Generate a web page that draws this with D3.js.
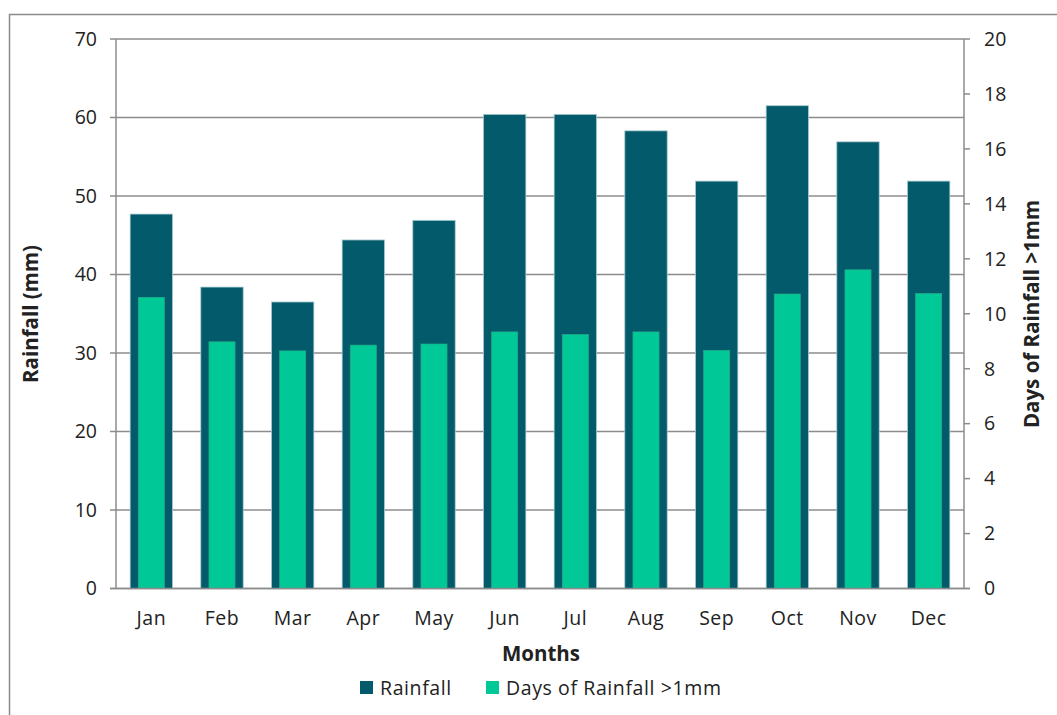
<!DOCTYPE html>
<html><head><meta charset="utf-8">
<script src="https://cdn.jsdelivr.net/npm/d3@7"></script>
<style>body{margin:0;background:#fff}svg{display:block}text{font-family:"Open Sans","Noto Sans",sans-serif;fill:#222}</style>
</head><body><svg id="c" width="1057" height="715"></svg>
<script>
const months = ["Jan","Feb","Mar","Apr","May","Jun","Jul","Aug","Sep","Oct","Nov","Dec"];
const rainfall = [47.7, 38.4, 36.5, 44.4, 46.9, 60.4, 60.4, 58.3, 51.9, 61.5, 56.9, 51.9];
const rainDays = [10.6, 8.98, 8.65, 8.86, 8.9, 9.34, 9.25, 9.34, 8.67, 10.72, 11.6, 10.74];
const leftTicks = [0,10,20,30,40,50,60,70];
const rightTicks = [0,2,4,6,8,10,12,14,16,18,20];
const seriesNames = ["Rainfall","Days of Rainfall >1mm"];
const colors = ["#035a6b","#00c896"];

const svg = d3.select("#c");
const L = 116, R = 964, T = 39, B = 588.5;
const x = d3.scaleBand().domain(months).range([L, R]).paddingInner(0).paddingOuter(0);
const yL = d3.scaleLinear().domain([0,70]).range([B, T]);
const yR = d3.scaleLinear().domain([0,20]).range([B, T]);
const FS = 19.5;

// frame
svg.append("path").attr("d", `M9.5,715 V14.5 H1057`).attr("fill","none").attr("stroke","#8a8a8a").attr("stroke-width",1.5);

// gridlines
svg.append("g").selectAll("line").data(leftTicks).join("line")
  .attr("x1", L-6).attr("x2", R).attr("y1", d=>yL(d)).attr("y2", d=>yL(d))
  .attr("stroke","#8c8c8c").attr("stroke-width",1.5);

// bars
const bw = x.bandwidth();
svg.append("g").selectAll("rect").data(months).join("rect")
  .attr("x", d=>x(d)+bw*0.2).attr("width", bw*0.6)
  .attr("y", (d,i)=>yL(rainfall[i])).attr("height", (d,i)=>B-yL(rainfall[i]))
  .attr("fill", colors[0]).attr("stroke","#a9cbd1").attr("stroke-width",0.8);
svg.append("g").selectAll("rect").data(months).join("rect")
  .attr("x", d=>x(d)+bw*0.315).attr("width", bw*0.37)
  .attr("y", (d,i)=>yR(rainDays[i])).attr("height", (d,i)=>B-yR(rainDays[i]))
  .attr("fill", colors[1]).attr("stroke","#2aa88a").attr("stroke-width",0.6);

// axes lines
svg.append("line").attr("x1",L).attr("x2",L).attr("y1",T).attr("y2",B).attr("stroke","#8c8c8c").attr("stroke-width",1.5);
svg.append("line").attr("x1",R).attr("x2",R).attr("y1",T).attr("y2",B).attr("stroke","#8c8c8c").attr("stroke-width",1.5);
svg.append("line").attr("x1",L-6).attr("x2",R+6).attr("y1",B).attr("y2",B).attr("stroke","#8c8c8c").attr("stroke-width",1.5);

// left axis labels
svg.append("g").selectAll("text").data(leftTicks).join("text")
  .attr("x", 97).attr("y", d=>yL(d)).attr("dy","0.35em").attr("text-anchor","end")
  .attr("font-size",FS).text(d=>d);
// right axis ticks and labels
svg.append("g").selectAll("line").data(rightTicks).join("line")
  .attr("x1",R).attr("x2",R+6).attr("y1",d=>yR(d)).attr("y2",d=>yR(d))
  .attr("stroke","#8c8c8c").attr("stroke-width",1.5);
svg.append("g").selectAll("text").data(rightTicks).join("text")
  .attr("x", 984).attr("y", d=>yR(d)).attr("dy","0.35em").attr("text-anchor","start")
  .attr("font-size",FS).text(d=>d);

// month labels
svg.append("g").selectAll("text").data(months).join("text")
  .attr("x", d=>x(d)+bw/2).attr("y", 618).attr("dy","0.35em").attr("text-anchor","middle")
  .attr("font-size",FS).attr("letter-spacing",0.5).text(d=>d);

// axis titles
svg.append("text").attr("x",541).attr("y",654).attr("dy","0.35em").attr("text-anchor","middle")
  .attr("font-size",20.5).attr("font-weight","bold").text("Months");
svg.append("text").attr("transform","translate(31,314) rotate(-90)").attr("dy","0.35em").attr("text-anchor","middle")
  .attr("font-size",20.5).attr("font-weight","bold").text("Rainfall (mm)");
svg.append("text").attr("transform","translate(1032,314) rotate(-90)").attr("dy","0.35em").attr("text-anchor","middle")
  .attr("font-size",20.5).attr("font-weight","bold").text("Days of Rainfall >1mm");

// legend
const legX = [360, 486];
const lg = svg.append("g").selectAll("g").data(seriesNames).join("g")
  .attr("transform",(d,i)=>`translate(${legX[i]},688)`);
lg.append("rect").attr("x",0).attr("y",-7).attr("width",13).attr("height",13).attr("fill",(d,i)=>colors[i]);
lg.append("text").attr("x",20).attr("y",0).attr("dy","0.35em").attr("font-size",FS).attr("letter-spacing",0.6).text(d=>d);
</script></body></html>
